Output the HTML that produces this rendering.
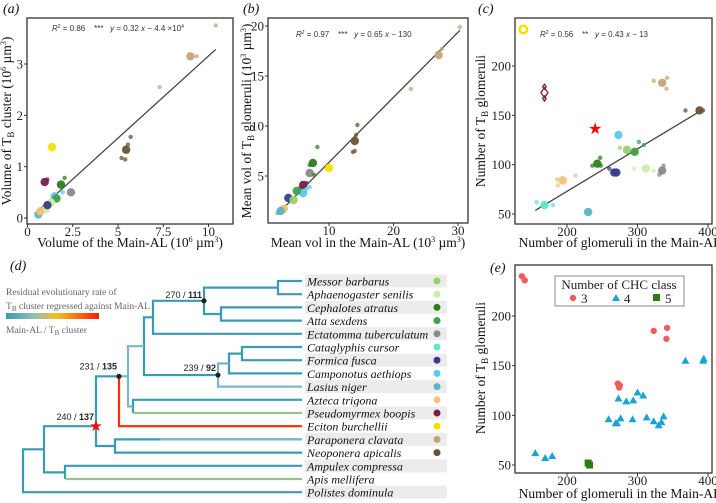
<!DOCTYPE html>
<html><head><meta charset="utf-8"><style>
body{margin:0;background:#fff}
svg{display:block}
.tk{font-family:"Liberation Serif",serif;font-size:13px;fill:#222}
.tt{font-family:"Liberation Serif",serif;font-size:13.5px;fill:#111}
.pl{font-family:"Liberation Serif",serif;font-size:14px;font-style:italic;fill:#111}
.an{font-family:"Liberation Sans",sans-serif;font-size:8px;fill:#333}
.sp{font-family:"Liberation Serif",serif;font-size:12px;font-style:italic;fill:#111}
.nd{font-family:"Liberation Sans",sans-serif;font-size:9px;fill:#222}
.lg{font-family:"Liberation Serif",serif;font-size:9.5px;fill:#666}
</style></head><body>
<svg id="fig" width="716" height="503" viewBox="0 0 716 503">
<defs><linearGradient id="grad" x1="0" x2="1"><stop offset="0" stop-color="#3a9bb5"/><stop offset="0.3" stop-color="#8fc0b0"/><stop offset="0.55" stop-color="#f0c020"/><stop offset="1" stop-color="#ff1a00"/></linearGradient></defs>
<g id="pa"></g>
<g id="pb"></g>
<g id="pc"></g>
<g id="pe"></g>
<g id="pd"></g>
</svg>
<script>
const NS='http://www.w3.org/2000/svg';
const speciesColors=['#93d26b','#cdeeaa','#2e7d1e','#3fa04d','#8a8a8a','#5ee8c8','#3b3b8a','#5bc8f0','#5bb5c0','#f5c07a','#7a1e48','#f5e000','#c4a57a','#6b5234'];
// panel a data
const aSpecies=[12,12,12,12,13,13,13,13,13,11,10,10,2,2,4,7,7,3,1,1,6,8,8,9];
const aX=[9,9.35,10.4,7.3,5.45,5.7,5.55,5.2,5.4,1.35,0.95,1.1,1.85,2.05,2.4,1.5,1.95,1.6,1.3,1.0,1.1,0.6,0.7,0.7];
const aY=[3.15,3.15,3.75,2.55,1.33,1.58,1.43,1.17,1.14,1.38,0.7,0.75,0.65,0.78,0.5,0.42,0.5,0.38,0.3,0.17,0.25,0.07,0.08,0.13];
const aBig=[1,0,0,0,1,0,0,0,0,1,1,0,1,0,1,1,0,1,1,1,1,1,0,1];
const aFit=[0.32,-0.044,0.5,10.4];
// panel b
const bSpecies=[12,12,12,12,13,13,13,13,13,11,4,2,2,2,2,10,10,10,6,7,7,7,3,0,9,9,8,8];
const bX=[27,27.5,30.3,22.7,14,14.4,14.2,13.7,14,10,7,7.5,8.2,7,7.7,6,6.5,5.5,3.7,6,6.5,7,5,4.5,3,3.2,2.5,2];
const bY=[17.1,17.7,19.9,13.7,8.5,10.1,9.1,7.4,7.5,5.8,5.3,6.3,7.9,6.1,5.1,4.1,4.3,3.8,2.8,3.3,3.7,3.9,3.5,2.6,1.7,2,1.5,1.3];
const bBig=[1,0,0,0,1,0,0,0,0,1,1,1,0,0,0,1,0,0,1,1,0,0,1,1,1,0,1,0];
const bFit=[0.65,-0.13,2,30.3];
// panel c
const cSpecies=[12,12,12,12,13,13,13,7,0,0,3,3,3,2,2,2,2,6,6,6,4,4,4,1,1,1,9,9,9,9,5,5,5,8];
const cX=[335,323,342,341,388,368,393,273,285,275,296,302,309,243,236,247,248,267,270,260,335,337,331,312,295,323,194,186,187,212,168,157,180,230];
const cY=[183,185,188,177,155,155,155,130,115,117,113,123,120,101,99,107,99,92,92,96,94,99,90,96,96,94,84,85,79,89,59,62,59,52];
const cBig=[1,0,0,0,1,0,0,1,1,0,1,0,0,1,0,0,0,1,1,0,1,0,0,1,0,0,1,0,0,0,1,0,0,1];
const cFit=[0.43,-13,155,390];
// panel e
const eClass=[3,3,3,3,3,3,3,3,4,4,4,4,4,4,4,4,4,4,4,4,4,4,4,4,4,4,4,4,4,5,5];
const eX=[136,140,323,342,341,272,274,275,155,169,179,368,393,394,273,284,294,300,308,259,269,271,276,293,313,323,330,334,337,230,232];
const eY=[240,236,185,188,177,132,128,130,62,57,59,155,155,157,117,114,115,123,120,96,92,92,97,96,98,94,90,93,99,52,50];
const aTicksX=[0,2.5,5,7.5,10],aTicksY=[0,1,2,3];
const bTicksX=[10,20,30],bTicksY=[5,10,15,20];
const cTicksX=[200,300,400],cTicksY=[50,100,150,200];

function el(t,a,p,txt){const e=document.createElementNS(NS,t);for(const k in a)e.setAttribute(k,a[k]);if(txt!=null)e.textContent=txt;p.appendChild(e);return e;}
function lin(d0,d1,r0,r1){return v=>r0+(v-d0)*(r1-r0)/(d1-d0);}

function frame(g,box,sx,sy,tx,ty){
  const r=el('rect',{x:box[0],y:box[1],width:box[2]-box[0],height:box[3]-box[1],fill:'none',stroke:'#333','stroke-width':1.3},g);
  
  
  tx.forEach(v=>{const x=sx(v);el('line',{x1:x,x2:x,y1:box[3],y2:box[3]+3,stroke:'#333'},g);
    const t=el('text',{x:x,y:box[3]+12,'text-anchor':'middle',class:'tk'},g,String(v));
    
    });
  ty.forEach(v=>{const y=sy(v);el('line',{x1:box[0]-3,x2:box[0],y1:y,y2:y,stroke:'#333'},g);
    const t=el('text',{x:box[0]-4,y:y+4.5,'text-anchor':'end',class:'tk'},g,String(v));
    
    });
}
function titles(g,cx,xy,xt,yx,cy,ytHTML){
  const t=el('text',{x:cx,y:xy,'text-anchor':'middle',class:'tt'},g);t.innerHTML=xt;
  
  
  const u=el('text',{x:0,y:0,'text-anchor':'middle',class:'tt',transform:`translate(${yx},${cy}) rotate(-90)`},g);u.innerHTML=ytHTML;
  
  
}
function scatter(g,sp,X,Y,B,sx,sy){
  for(let i=0;i<X.length;i++){
    const c=el('circle',{cx:sx(X[i]),cy:sy(Y[i]),r:B[i]?4.2:2.2,fill:speciesColors[sp[i]],'fill-opacity':B[i]?0.95:0.75},g);
    
    
  }
}
function fit(g,f,sx,sy){
  const l=el('line',{x1:sx(f[2]),y1:sy(f[0]*f[2]+f[1]),x2:sx(f[3]),y2:sy(f[0]*f[3]+f[1]),stroke:'#444','stroke-width':1.3},g);
  
  
}
function annot(g,x,y,html){const t=el('text',{x:x,y:y,class:'an'},g);t.innerHTML=html;
  
  }
function plabel(x,y,s){const t=el('text',{x:x,y:y,class:'pl'},document.getElementById('fig'),s);
  
  }
const TB='T<tspan font-size="9" dy="3">B</tspan><tspan dy="-3">';

// A
{const g=document.getElementById('pa');const box=[27,18,233,224];
const sx=lin(0,10,27.5,208.5),sy=lin(0,3,218,64);
frame(g,box,sx,sy,aTicksX,aTicksY);
fit(g,aFit,sx,sy);scatter(g,aSpecies,aX,aY,aBig,sx,sy);
annot(g,52,31,'<tspan font-style="italic">R</tspan><tspan font-size="5" dy="-3">2</tspan><tspan dy="3"> = 0.86 &#160;&#160; *** &#160;&#160;</tspan><tspan font-style="italic">y</tspan> = 0.32 <tspan font-style="italic">x</tspan> − 4.4 ×10<tspan font-size="5" dy="-3">4</tspan>');
titles(g,130,247,'Volume of the Main-AL (10<tspan font-size="8" dy="-5">6</tspan><tspan dy="5"> µm</tspan><tspan font-size="8" dy="-5">3</tspan><tspan dy="5">)</tspan>',11,121,'Volume of '+TB+' cluster (10</tspan><tspan font-size="8" dy="-5">6</tspan><tspan dy="5"> µm</tspan><tspan font-size="8" dy="-5">3</tspan><tspan dy="5">)</tspan>');
plabel(3,13,'(a)');}
// B
{const g=document.getElementById('pb');const box=[268,18,468,223];
const sx=lin(10,30,329,458),sy=lin(5,20,176,26);
frame(g,box,sx,sy,bTicksX,bTicksY);
fit(g,bFit,sx,sy);scatter(g,bSpecies,bX,bY,bBig,sx,sy);
annot(g,296,37,'<tspan font-style="italic">R</tspan><tspan font-size="5" dy="-3">2</tspan><tspan dy="3"> = 0.97 &#160;&#160; *** &#160;&#160;</tspan><tspan font-style="italic">y</tspan> = 0.65 <tspan font-style="italic">x</tspan> − 130');
titles(g,368,247,'Mean vol in the Main-AL (10<tspan font-size="8" dy="-5">3</tspan><tspan dy="5"> µm</tspan><tspan font-size="8" dy="-5">3</tspan><tspan dy="5">)</tspan>',251,121,'Mean vol of '+TB+' glomeruli (10</tspan><tspan font-size="8" dy="-5">3</tspan><tspan dy="5"> µm</tspan><tspan font-size="8" dy="-5">3</tspan><tspan dy="5">)</tspan>');
plabel(243,13,'(b)');}
// C
const cx=lin(200,400,567,708);
{const g=document.getElementById('pc');const box=[515,18,712,224];
const sy=lin(50,200,214,66);
frame(g,box,cx,sy,cTicksX,cTicksY);
fit(g,cFit,cx,sy);scatter(g,cSpecies,cX,cY,cBig,cx,sy);
let m=el('circle',{cx:cx(138),cy:sy(237),r:3.8,fill:'none',stroke:speciesColors[11],'stroke-width':2.5},g);

[[168,173,5],[168,179,2.5],[168,167,2.5]].forEach(d=>{const x=cx(d[0]),y=sy(d[1]),s=d[2];
 const p=el('polygon',{points:`${x},${y-s} ${x+s*0.7},${y} ${x},${y+s} ${x-s*0.7},${y}`,fill:'none',stroke:speciesColors[10],'stroke-width':1.3},g);
 });
const st=el('text',{x:cx(240),y:sy(136)+5,'text-anchor':'middle','font-size':16,fill:'#f00'},g,'★');

annot(g,540,37,'<tspan font-style="italic">R</tspan><tspan font-size="5" dy="-3">2</tspan><tspan dy="3"> = 0.56 &#160;&#160; ** &#160;&#160;</tspan><tspan font-style="italic">y</tspan> = 0.43 <tspan font-style="italic">x</tspan> − 13');
titles(g,620,247,'Number of glomeruli in the Main-AL',485,121,'Number of '+TB+' glomeruli</tspan>');
plabel(478,13,'(c)');}
// E
{const g=document.getElementById('pe');const box=[515,265,712,473];
const sy=lin(50,200,465,316);
frame(g,box,cx,sy,cTicksX,cTicksY);
for(let i=0;i<eX.length;i++){const x=cx(eX[i]),y=sy(eY[i]);let m;
 if(eClass[i]==3)m=el('circle',{cx:x,cy:y,r:3.2,fill:'#f25c5c'},g);
 else if(eClass[i]==4)m=el('polygon',{points:`${x},${y-4} ${x+4},${y+3} ${x-4},${y+3}`,fill:'#1aa3d6'},g);
 else m=el('rect',{x:x-3.5,y:y-3.5,width:7,height:7,fill:'#2e7d10'},g);
 
 }
const lg=el('g',{},g);
el('rect',{x:555,y:276,width:129,height:30,fill:'#fff',stroke:'#888'},lg);
el('text',{x:619,y:289,'text-anchor':'middle',class:'tk'},lg,'Number of CHC class');
el('circle',{cx:573,cy:298,r:3.2,fill:'#f25c5c'},lg);el('text',{x:581,y:303,class:'tk'},lg,'3');
el('polygon',{points:'616,294 620,301 612,301',fill:'#1aa3d6'},lg);el('text',{x:624,y:303,class:'tk'},lg,'4');
el('rect',{x:653,y:294,width:7,height:7,fill:'#2e7d10'},lg);el('text',{x:665,y:303,class:'tk'},lg,'5');
titles(g,620,498,'Number of glomeruli in the Main-AL',485,368,'Number of '+TB+' glomeruli</tspan>');
plabel(490,272,'(e)');}
// D tree
const treeNames=['Messor barbarus','Aphaenogaster senilis','Cephalotes atratus','Atta sexdens','Ectatomma tuberculatum','Cataglyphis cursor','Formica fusca','Camponotus aethiops','Lasius niger','Azteca trigona','Pseudomyrmex boopis','Eciton burchellii','Paraponera clavata','Neoponera apicalis','Ampulex compressa','Apis mellifera','Polistes dominula'];
{const g=document.getElementById('pd');
const ty=i=>281+i*13.2;
const C='#3a9bb5',L='#7ab7c9',G='#9bbf8f',R='#ff2a00';
treeNames.forEach((n,i)=>{
 if(i%2==0){const b=el('rect',{x:305,y:ty(i)-6.5,width:142,height:13,fill:'#ececec'},g);}
 const t=el('text',{x:307,y:ty(i)+4.5,class:'sp'},g,n);
 if(i<14){const d=el('circle',{cx:437,cy:ty(i),r:3.5,fill:speciesColors[i]},g);}
});
const P=(pts,c)=>{const p=el('polyline',{points:pts.map(q=>q.join(',')).join(' '),fill:'none',stroke:c,'stroke-width':2.2},g);};
const E=302;
const y=ty;
const yMA=(y(0)+y(1))/2,yCA=(y(2)+y(3))/2,y270=(yMA+yCA)/2;
P([[E,y(0)],[278,y(0)],[278,y(1)],[E,y(1)]],C);
P([[278,yMA],[204,yMA],[204,yCA],[221,yCA]],C);
P([[E,y(2)],[221,y(2)],[221,y(3)],[E,y(3)]],C);
const y153=(y270+y(4))/2;
P([[204,y270],[153,y270],[153,y(4)],[E,y(4)]],C);
P([[E,y(5)],[242,y(5)],[242,y(6)],[E,y(6)]],C);
const yCF=(y(5)+y(6))/2,yC3=(yCF+y(7))/2;
P([[242,yCF],[229,yCF],[229,y(7)],[E,y(7)]],C);
P([[229,yC3],[218,yC3],[218,y(8)],[E,y(8)]],L);
const y239=(yC3+y(8))/2;
P([[153,y153],[144,y153],[144,y239],[218,y239]],C);
const y144=(y153+y239)/2;
P([[E,y(9)],[133,y(9)],[133,y(10)]],C);P([[133,y(10)],[E,y(10)]],G);
const yAP=(y(9)+y(10))/2;
P([[144,y144],[128,y144],[128,yAP],[133,yAP]],L);
const y128=(y144+yAP)/2;
P([[128,y128],[119,y128]],L);
P([[119,y128],[119,y(11)],[E,y(11)]],R);
P([[E,y(12)],[115,y(12)],[115,y(13)],[E,y(13)]],C);
P([[E,y(12)],[160,y(12)]],L);
const yPN=(y(12)+y(13))/2,y96=y(11);
P([[119,y128],[96,y128],[96,yPN],[115,yPN]],C);
P([[E,y(14)],[65,y(14)],[65,y(15)]],C);P([[65,y(15)],[E,y(15)]],G);
const yAA=(y(14)+y(15))/2,y44=(y96+yAA)/2;
P([[96,y96],[44,y96],[44,yAA],[65,yAA]],C);
P([[44,y44],[23,y44],[23,y(16)],[E,y(16)]],C);
[[204,y270],[218,y239],[119,y128]].forEach(q=>{const d=el('circle',{cx:q[0],cy:q[1],r:2.6,fill:'#222'},g);});
const s=el('text',{x:96,y:y96+5,'text-anchor':'middle','font-size':15,fill:'#f00'},g,'★');
[[202,y270-3,'270 / ','111'],[216,y239-4,'239 / ','92'],[117,y128-7,'231 / ','135'],[94,y96-6,'240 / ','137']].forEach(a=>{
 const t=el('text',{x:a[0],y:a[1],'text-anchor':'end',class:'nd'},g);t.innerHTML=a[2]+'<tspan font-weight="bold">'+a[3]+'</tspan>';
 });
const lt=el('text',{x:6,y:295,class:'lg'},g,'Residual evolutionary rate of');
const l2=el('text',{x:6,y:309,class:'lg'},g);l2.innerHTML='T<tspan font-size="7" dy="2">B</tspan><tspan dy="-2"> cluster regressed against Main-AL</tspan>';
const gb=el('rect',{x:6,y:313,width:93,height:6,fill:'url(#grad)'},g);
const l3=el('text',{x:6,y:333,class:'lg'},g);l3.innerHTML='Main-AL / T<tspan font-size="7" dy="2">B</tspan><tspan dy="-2"> cluster</tspan>';
}
plabel(10,270,'(d)');
</script>
</body></html>
